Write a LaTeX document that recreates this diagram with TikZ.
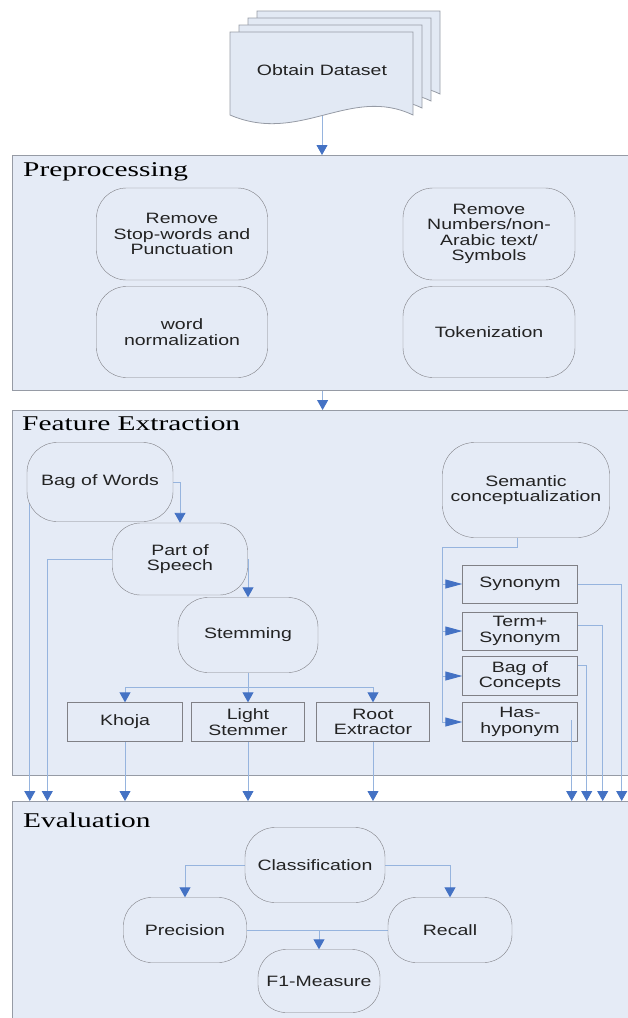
\documentclass[tikz,border=0pt]{standalone}
\usepackage{fontspec}
\setmainfont{Liberation Sans}
\newfontfamily\boxfont{Liberation Sans}[FakeStretch=1.3]
\newfontfamily\headfont{Liberation Serif}[FakeStretch=1.4]
\usetikzlibrary{arrows.meta}
\pgfdeclarelayer{back}
\pgfdeclarelayer{links}
\pgfsetlayers{back,links,main}
\definecolor{panelfill}{RGB}{229,235,246}
\definecolor{sheetfill}{RGB}{226,233,244}
\definecolor{edgegray}{RGB}{150,155,165}
\definecolor{boxgray}{RGB}{128,128,134}
\definecolor{linkblue}{RGB}{150,180,222}
\definecolor{tipblue}{RGB}{68,114,196}
\definecolor{ink}{RGB}{35,35,35}
\tikzset{
  stage/.style={draw=edgegray, fill=panelfill, line width=1.2pt, anchor=north west, inner sep=0pt},
  stagetitle/.style={anchor=base west, inner sep=0pt, text=black, font=\headfont\fontsize{21pt}{21pt}\selectfont},
  blob/.style={draw=boxgray, fill=panelfill, rounded corners=30pt, align=center, inner sep=0pt},
  tag/.style={draw=boxgray, fill=panelfill, align=center, inner sep=0pt, minimum height=39pt},
  link/.style={draw=linkblue, line width=0.9pt},
  arr/.style={link, -{Triangle[width=11pt,length=10pt,color=tipblue]}},
  arrr/.style={link, -{Triangle[width=9pt,length=17pt,color=tipblue]}}
}

\begin{document}
\begin{tikzpicture}[x=1pt, y=-1pt, text=ink, font=\boxfont\fontsize{15pt}{15.5pt}\selectfont]
  \useasboundingbox (0,0) rectangle (628,1018);

  % stack of pages
  \foreach \s in {3,2,1,0}
    \draw[draw=edgegray, fill=sheetfill, line width=0.8pt, shift={(9*\s,-7*\s)}]
      (230,32) -- (413,32) -- (413,115) .. controls (350,85) and (300,145) .. (230,115) -- cycle;
  \node (dataset) at (322,70) {Obtain Dataset};
  \coordinate (pagefoot) at (322,116);

  % stages
  \begin{pgfonlayer}{back}
    \node[stage, minimum width=620pt, minimum height=235pt] (pre) at (12,155) {};
    \node[stage, minimum width=620pt, minimum height=365pt] (fe) at (12,410) {};
    \node[stage, minimum width=620pt, minimum height=222pt] (evalf) at (12,801) {};
  \end{pgfonlayer}
  \node[stagetitle] (pretitle) at (23,176) {Preprocessing};
  \node[stagetitle] (fetitle) at (22,430) {Feature Extraction};
  \node[stagetitle] (evaltitle) at (23,827) {Evaluation};

  % preprocessing
  \node[blob, minimum width=171pt, minimum height=92pt] (stop) at (182,234) {Remove\\Stop-words and\\Punctuation};
  \node[blob, minimum width=172pt, minimum height=92pt] (clean) at (489,234) {Remove\\Numbers/non-\\Arabic text/\\Symbols};
  \node[blob, minimum width=171pt, minimum height=91pt] (norm) at (182,332) {word\\normalization};
  \node[blob, minimum width=172pt, minimum height=91pt] (token) at (489,332) {Tokenization};

  % feature extraction
  \node[blob, minimum width=146pt, minimum height=79pt] (bow) at (100,482) {Bag of Words};
  \node[blob, rounded corners=28pt, minimum width=135pt, minimum height=72pt] (pos) at (180,559) {Part of\\Speech};
  \node[blob, minimum width=140pt, minimum height=75pt] (stem) at (248,635) {Stemming};
  \node[tag, minimum width=115pt] (khoja) at (125,722) {Khoja};
  \node[tag, minimum width=113pt] (light) at (248,722) {Light\\Stemmer};
  \node[tag, minimum width=113pt] (root) at (373,722) {Root\\Extractor};
  \node[blob, rounded corners=32pt, minimum width=167pt, minimum height=95pt] (sc) at (526,490) {Semantic\\conceptualization};
  \node[tag, minimum width=115pt, minimum height=38pt] (syn) at (520,584) {Synonym};
  \node[tag, minimum width=115pt, minimum height=38pt] (term) at (520,631) {Term+\\Synonym};
  \node[tag, minimum width=115pt] (boc) at (520,676) {Bag of\\Concepts};
  \node[tag, minimum width=115pt] (has) at (520,722) {Has-\\hyponym};
  \coordinate (split) at (248,687);
  \coordinate (fork) at (442,547);

  % evaluation
  \node[blob, minimum width=140pt, minimum height=75pt] (cls) at (315,865) {Classification};
  \node[blob, rounded corners=28pt, minimum width=123pt, minimum height=65pt] (prec) at (185,930) {Precision};
  \node[blob, rounded corners=28pt, minimum width=124pt, minimum height=65pt] (rec) at (450,930) {Recall};
  \node[blob, rounded corners=28pt, minimum width=122pt, minimum height=63pt] (f1) at (319,981) {F1-Measure};

  \begin{pgfonlayer}{links}
    \draw[arr] (pagefoot) -- (pagefoot |- pre.north);
    \draw[arr] (pre.south) -- (fe.north);
    \draw[arr] (bow.east) -| (pos.north);
    \draw[arr] (pos.east) -| (stem.north);
    \draw[link] (stem.south) -- (split);
    \draw[arr] (split) -| (khoja.north);
    \draw[arr] (split) -- (light.north);
    \draw[arr] (split) -| (root.north);
    \draw[arr] ([xshift=3pt]bow.west) -- ([xshift=3pt]bow.west |- evalf.north);
    \draw[arr] (pos.west) -| ([xshift=-65pt]pos.west |- evalf.north);
    \draw[arr] (khoja.south) -- (khoja.south |- evalf.north);
    \draw[arr] (light.south) -- (light.south |- evalf.north);
    \draw[arr] (root.south) -- (root.south |- evalf.north);
    \draw[link] ([xshift=-9pt]sc.south) |- (fork) -- (fork |- has.west);
    \foreach \t in {syn,term,boc,has}
      \draw[arrr] (fork |- \t.west) -- (\t.west);
    \draw[arr] (syn.east) -| ([xshift=44pt]syn.east |- evalf.north);
    \draw[arr] ([yshift=6pt]term.east) -| ([xshift=25pt]term.east |- evalf.north);
    \draw[arr] ([yshift=11pt]boc.east) -| ([xshift=9pt]boc.east |- evalf.north);
    \draw[arr] (cls.west) -| (prec.north);
    \draw[arr] (cls.east) -| (rec.north);
    \draw[link] (prec.east) -- (rec.west);
    \draw[arr] (f1.north |- prec.east) -- (f1.north);
  \end{pgfonlayer}
  \draw[arr] ([xshift=-6pt,yshift=2pt]has.east) -- ([xshift=-6pt]has.east |- evalf.north);
\end{tikzpicture}
\end{document}
